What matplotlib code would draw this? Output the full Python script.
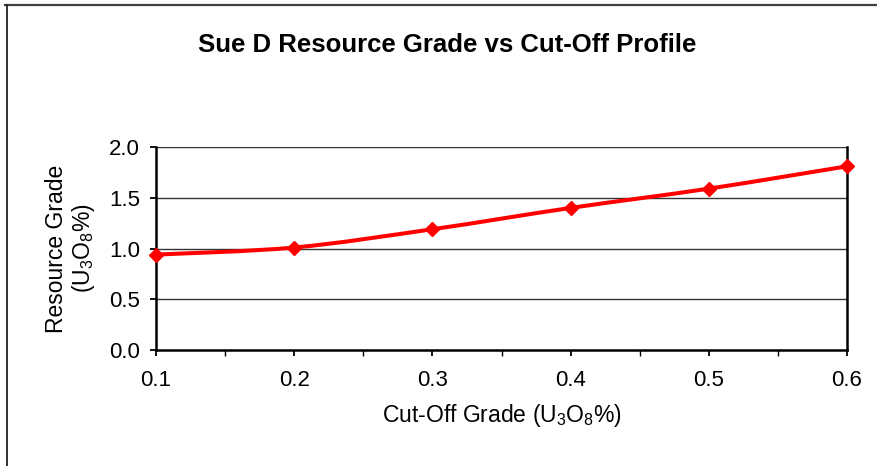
import matplotlib
matplotlib.use("Agg")
import matplotlib.pyplot as plt
from matplotlib.path import Path
from matplotlib.patches import PathPatch
from matplotlib.lines import Line2D
from matplotlib.ticker import MultipleLocator
import numpy as np

plt.rcParams['font.family'] = ['Liberation Sans', 'DejaVu Sans']
plt.rcParams['mathtext.fontset'] = 'custom'
plt.rcParams['mathtext.rm'] = 'Liberation Sans'
plt.rcParams['mathtext.it'] = 'Liberation Sans'

# Cut-off grade vs resource grade (U3O8 %)
cutoff = [0.1, 0.2, 0.3, 0.4, 0.5, 0.6]
grade = [0.94, 1.01, 1.19, 1.40, 1.59, 1.81]
y_ticks = [0.0, 0.5, 1.0, 1.5, 2.0]
x_ticks = [0.1, 0.2, 0.3, 0.4, 0.5, 0.6]

fig = plt.figure(figsize=(8.78, 4.66), dpi=100)
ax = fig.add_axes([0.1777, 0.2489, 0.9647 - 0.1777, 0.6845 - 0.2489])

ax.set_xlim(0.1, 0.6)
ax.set_ylim(0.0, 2.0)
ax.set_xticks(x_ticks)
ax.set_xticklabels([f"{v:.1f}" for v in x_ticks])
ax.set_yticks(y_ticks)
ax.set_yticklabels([f"{v:.1f}" for v in y_ticks])
ax.xaxis.set_minor_locator(MultipleLocator(0.05))
ax.tick_params(axis='both', which='major', labelsize=16, direction='out',
               length=4.5, width=1.3, color='black')
ax.tick_params(axis='x', which='major', pad=10)
ax.tick_params(axis='y', which='major', pad=7)
ax.tick_params(axis='x', which='minor', direction='out', length=4, width=1.0)

for y in y_ticks[1:]:
    ax.axhline(y, color='#333333', lw=1.0, zorder=1)

for side in ['left', 'bottom', 'right']:
    ax.spines[side].set_linewidth(1.8)
    ax.spines[side].set_color('black')
ax.spines['top'].set_visible(False)


def smooth_path(xs, ys, t=1.0 / 6.0):
    """Cardinal-spline style Bezier path through the points."""
    pts = np.column_stack([xs, ys])
    n = len(pts)
    verts = [pts[0]]
    codes = [Path.MOVETO]
    for i in range(n - 1):
        p0 = pts[i - 1] if i > 0 else pts[i]
        p1 = pts[i]
        p2 = pts[i + 1]
        p3 = pts[i + 2] if i + 2 < n else pts[i + 1]
        c1 = p1 + (p2 - p0) * t
        c2 = p2 - (p3 - p1) * t
        verts += [c1, c2, p2]
        codes += [Path.CURVE4] * 3
    return Path(verts, codes)


# Build the curve in screen space so smoothing follows the drawn shape
fig.canvas.draw()
disp = ax.transData.transform(np.column_stack([cutoff, grade]))
path = smooth_path(disp[:, 0], disp[:, 1])
patch = PathPatch(path, transform=None, fill=False, edgecolor='#ff0000',
                  lw=2.9, capstyle='round', joinstyle='round', zorder=3,
                  clip_on=False)
ax.add_artist(patch)
ax.plot(cutoff, grade, linestyle='none', marker='D', markersize=7.5,
        color='#ff0000', zorder=4, clip_on=False)

ax.set_xlabel('Cut-Off Grade (U$_\\mathregular{3}$O$_\\mathregular{8}$%)',
              fontsize=16.5, labelpad=8)
ax.set_ylabel('Resource Grade\n(U$_\\mathregular{3}$O$_\\mathregular{8}$%)',
              fontsize=16.5, labelpad=9, linespacing=1.1)

fig.text(0.509, 0.903, 'Sue D Resource Grade vs Cut-Off Profile',
         ha='center', va='center', fontsize=18.5, fontweight='bold')

# Frame lines along the top and left edge of the figure
fig.add_artist(Line2D([0.006, 1.0], [0.989, 0.989], transform=fig.transFigure,
                      color='#404040', lw=1.6))
fig.add_artist(Line2D([0.0075, 0.0075], [0.0, 0.989], transform=fig.transFigure,
                      color='#202020', lw=1.3))

fig.savefig('out.png', dpi=100, facecolor='white')
